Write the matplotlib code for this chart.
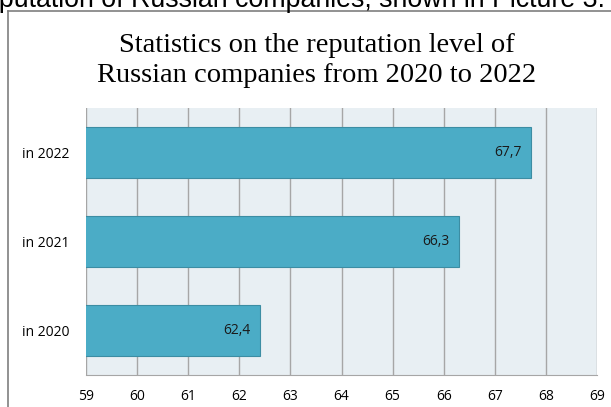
import matplotlib.pyplot as plt
from matplotlib.lines import Line2D

# Reputation level by year
years = ['in 2020', 'in 2021', 'in 2022']
levels = [62.4, 66.3, 67.7]
ticks = list(range(59, 70))

fig = plt.figure(figsize=(6.11, 4.07), dpi=100)
ax = fig.add_axes([0.1408, 0.0786, 0.8364, 0.656])

ax.set_facecolor('#E8EFF3')
ax.barh(years, levels, height=0.58, color='#4BACC6', edgecolor='#3C8DA3',
        linewidth=0.8, zorder=3)

for i, v in enumerate(levels):
    ax.text(v - 0.18, i, f'{v:.1f}'.replace('.', ','), ha='right', va='center',
            fontsize=10, family='Open Sans', color='#1A1A1A', zorder=4)

ax.set_xlim(59, 69)
ax.set_ylim(-0.5, 2.5)
ax.set_xticks(ticks)
ax.set_xticklabels([str(t) for t in ticks], family='Open Sans', fontsize=10)
ax.tick_params(axis='x', length=0, pad=10)
ax.tick_params(axis='y', length=0, pad=12)
for lbl in ax.get_yticklabels():
    lbl.set_family('Open Sans')
    lbl.set_fontsize(10)
ax.grid(axis='x', color='#A6A6A6', linewidth=1.0, zorder=1)
for side in ['top', 'right', 'left']:
    ax.spines[side].set_visible(False)
ax.spines['bottom'].set_color('#A6A6A6')

fig.text(0.518, 0.852, 'Statistics on the reputation level of\nRussian companies from 2020 to 2022',
         ha='center', va='center', fontsize=20.5, family='Liberation Serif',
         linespacing=1.28)

# text of the surrounding page, cut off at the top edge
fig.text(-0.041, 0.982, 'reputation of Russian companies, shown in Picture 3.',
         ha='left', va='baseline', fontsize=19.3, family='Liberation Sans')

# chart frame
fig.add_artist(Line2D([0.0123, 0.0123], [0, 0.973], color='#7F7F7F', linewidth=1.2))
fig.add_artist(Line2D([0.0123, 1.0], [0.973, 0.973], color='#7F7F7F', linewidth=1.2))

fig.savefig('out.png', dpi=100)
